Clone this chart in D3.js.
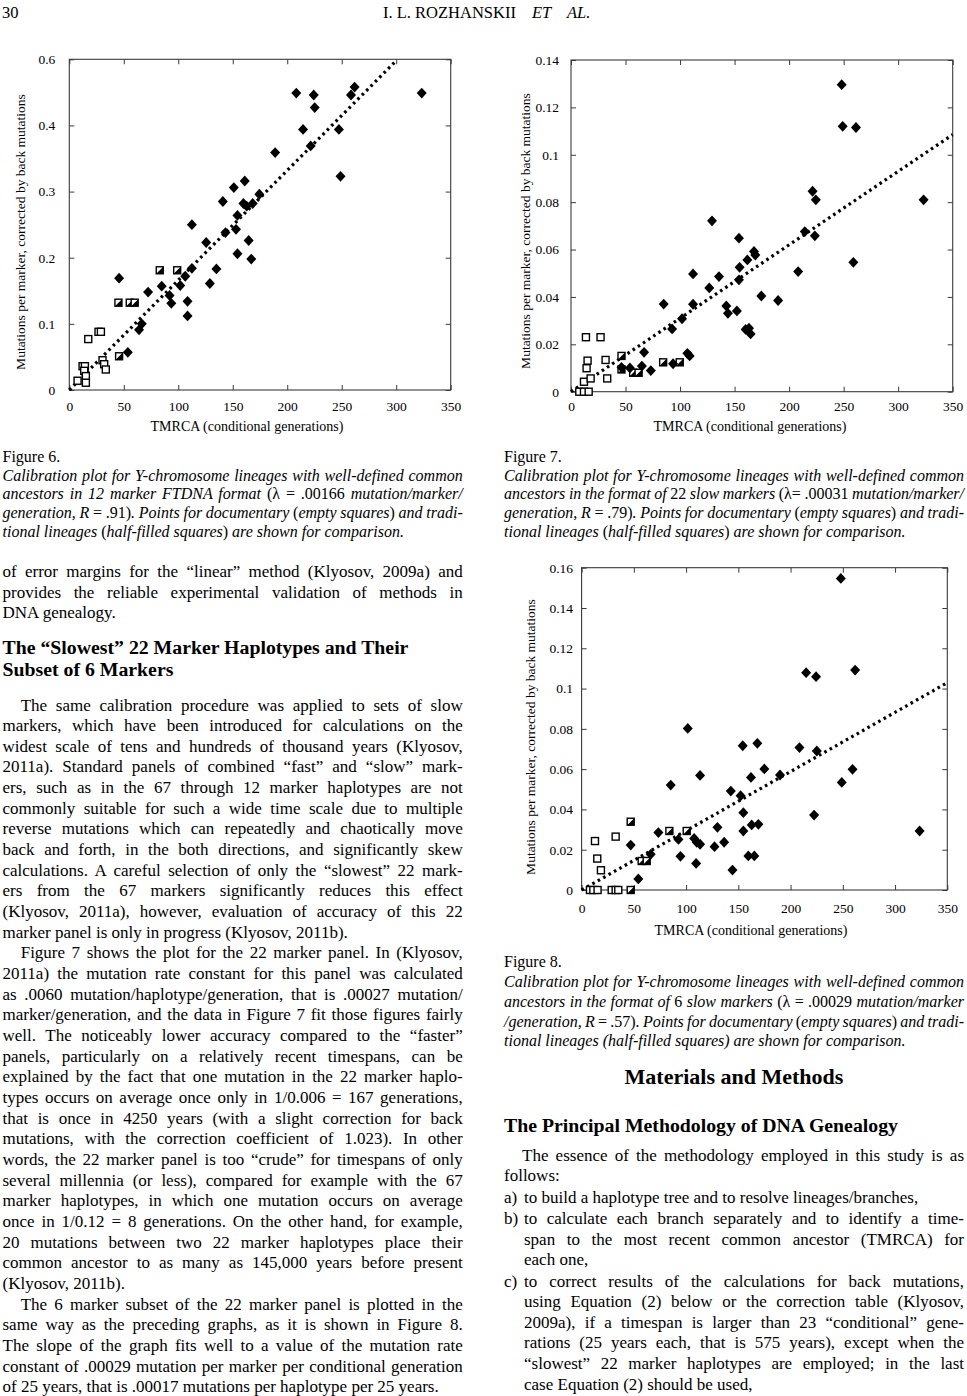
<!DOCTYPE html>
<html><head><meta charset="utf-8">
<script src="https://cdn.jsdelivr.net/npm/d3@7"></script>
<style>
body{margin:0;background:#fff}
svg{display:block;background:#fff}
text{font-family:"Liberation Serif","Times New Roman",serif;fill:#000}
</style></head><body>
<svg id="page" width="967" height="1396"></svg>
<script>
// ================= DATA =================
const xTicks = [0,50,100,150,200,250,300,350];

// Figure 6 (12 marker FTDNA)
const fig6YTicks  = [0,0.1,0.2,0.3,0.4,0.5];
const fig6YLabels = ["0","0.1","0.2","0.3","0.4","0.6"];
const fig6Slope = 0.00166;
const fig6Diamonds = [[45.7,0.169],[53.7,0.057],[64,0.091],[66.5,0.100],[72.3,0.148],[84.8,0.157],[92,0.143],[93.6,0.131],[101.8,0.158],[106.4,0.172],[108.5,0.134],[108.5,0.112],[112.5,0.184],[112.5,0.250],[125.6,0.223],[129,0.161],[135,0.183],[140.9,0.285],[143.3,0.238],[151,0.306],[153,0.243],[154.3,0.264],[154.3,0.206],[161,0.316],[159.8,0.282],[162.8,0.278],[164.6,0.226],[167,0.198],[168.3,0.282],[174.4,0.296],[188.9,0.359],[208.3,0.449],[214.5,0.394],[221.5,0.369],[224.3,0.446],[225.2,0.427],[247.4,0.394],[248.9,0.323],[258.5,0.446],[261.8,0.458],[323.4,0.449]];
const fig6Empty = [[7.6,0.014],[12.2,0.036],[14.3,0.036],[13.7,0.029],[15.2,0.021],[15.2,0.011],[17.4,0.077],[26.8,0.088],[29,0.088],[30.5,0.045],[32,0.039],[33.5,0.031]];
const fig6Half  = [[45.1,0.132],[45.7,0.051],[55.5,0.132],[60,0.132],[83,0.181],[99,0.181]];

// Figure 7 (22 slow markers)
const fig7YTicks  = [0,0.02,0.04,0.06,0.08,0.1,0.12,0.14];
const fig7YLabels = ["0","0.02","0.04","0.06","0.08","0.1","0.12","0.14"];
const fig7Slope = 0.00031;
const fig7Diamonds = [[46.3,0.0103],[54,0.0100],[65,0.0108],[67,0.0166],[73.2,0.0089],[85,0.0370],[92.7,0.0265],[93.6,0.0118],[101.8,0.0308],[106.7,0.0162],[108.8,0.0151],[111.9,0.0497],[111.9,0.0369],[126.8,0.0438],[129.3,0.0721],[135.7,0.0486],[142.4,0.0362],[143.9,0.0331],[152.1,0.0341],[154,0.0648],[154,0.0472],[154.6,0.0525],[161.7,0.0556],[160.1,0.0263],[163.2,0.0268],[164.7,0.0244],[167.8,0.0592],[169,0.0577],[174.5,0.0404],[189.9,0.0385],[208.3,0.0507],[214.4,0.0676],[221.5,0.0846],[224.5,0.0810],[223.6,0.0658],[248.2,0.1296],[249.1,0.1120],[261.3,0.1115],[258.9,0.0546],[323.3,0.0810]];
const fig7Empty = [[7.6,0],[11.9,0],[16.2,0],[11.9,0.0042],[15.2,0.0131],[14.3,0.0099],[18,0.0056],[13.7,0.023],[27.1,0.023],[31.7,0.0134],[33.2,0.0056]];
const fig7Half  = [[46.3,0.0151],[46.3,0.0094],[57,0.0080],[62,0.0080],[84.5,0.0124],[99.7,0.0124]];

// Figure 8 (6 slow markers)
const fig8YTicks  = [0,0.02,0.04,0.06,0.08,0.1,0.12,0.14,0.16];
const fig8YLabels = ["0","0.02","0.04","0.06","0.08","0.1","0.12","0.14","0.16"];
const fig8Slope = 0.000294;
const fig8Diamonds = [[47,0.0223],[54.3,0.0055],[66.1,0.0177],[73.5,0.0285],[85.3,0.0521],[92.7,0.0251],[94.6,0.0167],[101.6,0.0802],[107.7,0.0256],[110.2,0.0237],[109.6,0.0132],[113.4,0.0569],[113.4,0.0227],[127.2,0.0215],[130,0.0311],[136.4,0.0237],[142.8,0.0491],[144.4,0.0099],[152.2,0.0468],[154.2,0.0716],[154.8,0.0384],[154.8,0.0293],[159.6,0.0169],[162.1,0.0559],[162.8,0.0323],[165.3,0.0169],[168.2,0.0728],[169.2,0.0326],[174.9,0.0601],[189.9,0.0571],[208.5,0.0707],[214.9,0.1079],[222.5,0.0372],[224.4,0.1059],[225.1,0.0690],[248.1,0.1547],[249,0.0534],[259.3,0.0599],[261.8,0.1092],[323.5,0.0293]];
const fig8Empty = [[12.8,0.0243],[15,0.0156],[18.5,0.0098],[32.6,0.0265],[8,0],[11.2,0],[15.3,0],[28.8,0],[32.6,0],[35.1,0]];
const fig8Half  = [[47,0.0339],[47,0],[84,0.0293],[100.6,0.0293],[57.5,0.0144],[62.3,0.0144]];

const xTitle = "TMRCA (conditional generations)";
const yTitle = "Mutations per marker, corrected by back mutations";

// ================= DRAWING =================
const svg = d3.select('#page');

function addLine(g, str, x, y, o = {}) {
  const t = g.append('text').attr('x', x).attr('y', y)
    .style('font-size', (o.size || 17) + 'px')
    .style('font-weight', o.bold ? 'bold' : 'normal');
  if (o.anchor) t.attr('text-anchor', o.anchor);
  const parts = str.split('_');
  let ital = !!o.italic;
  parts.forEach(p => {
    if (p.length) t.append('tspan').text(p).style('font-style', ital ? 'italic' : 'normal');
    ital = !ital;
  });
  if (o.to) {
    const target = o.to - x;
    const len = t.node().getComputedTextLength();
    const n = (str.replace(/_/g, '').match(/ /g) || []).length;
    if (n > 0) t.style('word-spacing', ((target - len) / n) + 'px');
    const len2 = t.node().getComputedTextLength();
    if (Math.abs(len2 - target) > 2) {
      t.style('word-spacing', null).attr('textLength', target).attr('lengthAdjust', 'spacing');
    }
  }
  return t;
}

function drawChart(cfg) {
  const x = d3.scaleLinear().domain([0, 350]).range([cfg.left, cfg.right]);
  const y = d3.scaleLinear().domain([0, cfg.yMax]).range([cfg.bottom, cfg.top]);
  const g = svg.append('g');
  const ink = '#3a3a3a';

  const styleAxis = sel => {
    sel.select('.domain').remove();
    sel.attr('font-family', null).attr('font-size', null).style('color', ink);
    sel.selectAll('text').style('font-size', '13.5px').style('fill', '#000');
  };
  g.append('g').attr('transform', `translate(0,${cfg.bottom})`)
    .call(d3.axisBottom(x).tickValues(xTicks).tickSize(-5).tickPadding(cfg.xPad).tickFormat(d3.format('d')))
    .call(styleAxis);
  g.append('g').attr('transform', `translate(0,${cfg.top})`)
    .call(d3.axisTop(x).tickValues(xTicks).tickSize(-5).tickFormat(''))
    .call(styleAxis);
  g.append('g').attr('transform', `translate(${cfg.left},0)`)
    .call(d3.axisLeft(y).tickValues(cfg.yTicks).tickSize(-5).tickPadding(cfg.yPad).tickFormat((d, i) => cfg.yLabels[i]))
    .call(styleAxis);
  g.append('g').attr('transform', `translate(${cfg.right},0)`)
    .call(d3.axisRight(y).tickValues(cfg.yTicks).tickSize(-5).tickFormat(''))
    .call(styleAxis);

  g.append('rect').attr('x', cfg.left).attr('y', cfg.top)
    .attr('width', cfg.right - cfg.left).attr('height', cfg.bottom - cfg.top)
    .attr('fill', 'none').attr('stroke', ink).attr('stroke-width', 1.1);

  const line = d3.line().x(d => x(d)).y(d => y(cfg.slope * d));
  g.append('path').datum([0, cfg.lineEnd]).attr('d', line)
    .attr('fill', 'none').attr('stroke', '#000').attr('stroke-width', 3.2)
    .attr('stroke-dasharray', '2.6,3.6');

  const s = 7;
  g.selectAll('rect.e').data(cfg.empty).join('rect').attr('class', 'e')
    .attr('x', d => x(d[0]) - s / 2).attr('y', d => y(d[1]) - s / 2)
    .attr('width', s).attr('height', s)
    .attr('fill', '#fff').attr('stroke', '#000').attr('stroke-width', 1.4);
  const hg = g.selectAll('g.h').data(cfg.half).join('g').attr('class', 'h')
    .attr('transform', d => `translate(${x(d[0])},${y(d[1])})`);
  hg.append('rect').attr('x', -s / 2).attr('y', -s / 2).attr('width', s).attr('height', s)
    .attr('fill', '#fff').attr('stroke', '#000').attr('stroke-width', 1.4);
  hg.append('path').attr('d', `M${s/2},${-s/2}L${s/2},${s/2}L${-s/2},${s/2}Z`).attr('fill', '#000');
  g.selectAll('path.dm').data(cfg.diamonds).join('path').attr('class', 'dm')
    .attr('d', 'M0,-5.4L5,0L0,5.4L-5,0Z')
    .attr('transform', d => `translate(${x(d[0])},${y(d[1])})`)
    .attr('fill', '#000');

  g.append('text').attr('x', cfg.xTitleX).attr('y', cfg.xTitleY).attr('text-anchor', 'middle')
    .style('font-size', '14px').text(xTitle);
  g.append('text').attr('transform', `translate(${cfg.yTitleX},${cfg.yTitleY}) rotate(-90)`)
    .attr('text-anchor', 'middle').style('font-size', '13.5px').text(yTitle);
}

drawChart({left: 69.3, right: 450.7, top: 59.3, bottom: 390, yMax: 0.5,
  yTicks: fig6YTicks, yLabels: fig6YLabels, slope: fig6Slope, lineEnd: 300,
  diamonds: fig6Diamonds, empty: fig6Empty, half: fig6Half,
  xPad: 11.4, yPad: 14, xTitleX: 247, xTitleY: 430.5, yTitleX: 24.5, yTitleY: 232});
drawChart({left: 571, right: 952.7, top: 60, bottom: 391.7, yMax: 0.14,
  yTicks: fig7YTicks, yLabels: fig7YLabels, slope: fig7Slope, lineEnd: 350,
  diamonds: fig7Diamonds, empty: fig7Empty, half: fig7Half,
  xPad: 9.7, yPad: 12, xTitleX: 750, xTitleY: 430.5, yTitleX: 529.5, yTitleY: 231});
drawChart({left: 581.6, right: 947.3, top: 567.7, bottom: 890, yMax: 0.16,
  yTicks: fig8YTicks, yLabels: fig8YLabels, slope: fig8Slope, lineEnd: 350,
  diamonds: fig8Diamonds, empty: fig8Empty, half: fig8Half,
  xPad: 13.4, yPad: 8.6, xTitleX: 751, xTitleY: 935, yTitleX: 535, yTitleY: 737});

// ================= PAGE TEXT =================
const T = svg.append('g');
addLine(T, "30", 2, 18, {size: 16.5});
addLine(T, "I. L. ROZHANSKII", 383, 18, {size: 16.5});
addLine(T, "ET", 532, 18, {size: 16.5, italic: true});
addLine(T, "AL.", 567, 18, {size: 16.5, italic: true});

function caption(lines, x0, x1, ys) {
  lines.forEach((l, i) => addLine(T, l[0], x0, ys[i], {size: 16, to: l[1] ? x1 : null}));
}
caption([
  ["Figure 6.", 0],
  ["_Calibration plot for Y-chromosome lineages with well-defined common_", 1],
  ["_ancestors in 12 marker FTDNA format_ (λ = .00166 _mutation/marker/_", 1],
  ["_generation, R_ = .91)_. Points for documentary_ (_empty squares_) _and tradi-_", 1],
  ["_tional lineages_ (_half-filled squares_) _are shown for comparison._", 0]
], 2.5, 462.7, [461.7, 481, 499.3, 518.3, 536.7]);
caption([
  ["Figure 7.", 0],
  ["_Calibration plot for Y-chromosome lineages with well-defined common_", 1],
  ["_ancestors in the format of_ 22 _slow markers_ (λ= .00031 _mutation/marker/_", 1],
  ["_generation, R_ = .79)_. Points for documentary_ (_empty squares_) _and tradi-_", 1],
  ["_tional lineages_ (_half-filled squares_) _are shown for comparison._", 0]
], 504, 964, [461.7, 481, 499.3, 518.3, 536.7]);
caption([
  ["Figure 8.", 0],
  ["_Calibration plot for Y-chromosome lineages with well-defined common_", 1],
  ["_ancestors in the format of_ 6 _slow markers_ (λ = .00029 _mutation/marker_", 1],
  ["_/generation, R_ = .57)_. Points for documentary_ (_empty squares_) _and tradi-_", 1],
  ["_tional lineages (half-filled squares) are shown for comparison._", 0]
], 504, 964, [966.7, 986.7, 1006.7, 1026.7, 1046]);

const L0 = 2.5, L1 = 462.7, LI = 20.7;
[["of error margins for the “linear” method (Klyosov, 2009a) and", 1],
 ["provides the reliable experimental validation of methods in", 1],
 ["DNA genealogy.", 0]].forEach((l, i) => addLine(T, l[0], L0, 577 + i * 20.66, {to: l[1] ? L1 : null}));
addLine(T, "The “Slowest” 22 Marker Haplotypes and Their", L0, 653.8, {size: 19.8, bold: true});
addLine(T, "Subset of 6 Markers", L0, 675.5, {size: 19.8, bold: true});
const leftBody = [
 ["The same calibration procedure was applied to sets of slow", 1, 1],
 ["markers, which have been introduced for calculations on the", 1],
 ["widest scale of tens and hundreds of thousand years (Klyosov,", 1],
 ["2011a). Standard panels of combined “fast” and “slow” mark-", 1],
 ["ers, such as in the 67 through 12 marker haplotypes are not", 1],
 ["commonly suitable for such a wide time scale due to multiple", 1],
 ["reverse mutations which can repeatedly and chaotically move", 1],
 ["back and forth, in the both directions, and significantly skew", 1],
 ["calculations. A careful selection of only the “slowest” 22 mark-", 1],
 ["ers from the 67 markers significantly reduces this effect", 1],
 ["(Klyosov, 2011a), however, evaluation of accuracy of this 22", 1],
 ["marker panel is only in progress (Klyosov, 2011b).", 0],
 ["Figure 7 shows the plot for the 22 marker panel. In (Klyosov,", 1, 1],
 ["2011a) the mutation rate constant for this panel was calculated", 1],
 ["as .0060 mutation/haplotype/generation, that is .00027 mutation/", 1],
 ["marker/generation, and the data in Figure 7 fit those figures fairly", 1],
 ["well. The noticeably lower accuracy compared to the “faster”", 1],
 ["panels, particularly on a relatively recent timespans, can be", 1],
 ["explained by the fact that one mutation in the 22 marker haplo-", 1],
 ["types occurs on average once only in 1/0.006 = 167 generations,", 1],
 ["that is once in 4250 years (with a slight correction for back", 1],
 ["mutations, with the correction coefficient of 1.023). In other", 1],
 ["words, the 22 marker panel is too “crude” for timespans of only", 1],
 ["several millennia (or less), compared for example with the 67", 1],
 ["marker haplotypes, in which one mutation occurs on average", 1],
 ["once in 1/0.12 = 8 generations. On the other hand, for example,", 1],
 ["20 mutations between two 22 marker haplotypes place their", 1],
 ["common ancestor to as many as 145,000 years before present", 1],
 ["(Klyosov, 2011b).", 0],
 ["The 6 marker subset of the 22 marker panel is plotted in the", 1, 1],
 ["same way as the preceding graphs, as it is shown in Figure 8.", 1],
 ["The slope of the graph fits well to a value of the mutation rate", 1],
 ["constant of .00029 mutation per marker per conditional generation", 1],
 ["of 25 years, that is .00017 mutations per haplotype per 25 years.", 0]
];
leftBody.forEach((l, i) => {
  const x = l[2] ? L0 + LI - 2.5 : L0;
  addLine(T, l[0], x, 710.5 + i * 20.66, {to: l[1] ? L1 : null});
});

const R0 = 504, R1 = 964;
addLine(T, "Materials and Methods", 734, 1084, {size: 22, bold: true, anchor: 'middle'});
addLine(T, "The Principal Methodology of DNA Genealogy", R0, 1131.5, {size: 19.8, bold: true});
const rightBody = [
 ["The essence of the methodology employed in this study is as", 1, 522, null],
 ["follows:", 0, R0, null],
 ["to build a haplotype tree and to resolve lineages/branches,", 0, 524, "a)"],
 ["to calculate each branch separately and to identify a time-", 1, 524, "b)"],
 ["span to the most recent common ancestor (TMRCA) for", 1, 524, null],
 ["each one,", 0, 524, null],
 ["to correct results of the calculations for back mutations,", 1, 524, "c)"],
 ["using Equation (2) below or the correction table (Klyosov,", 1, 524, null],
 ["2009a), if a timespan is larger than 23 “conditional” gene-", 1, 524, null],
 ["rations (25 years each, that is 575 years), except when the", 1, 524, null],
 ["“slowest” 22 marker haplotypes are employed; in the last", 1, 524, null],
 ["case Equation (2) should be used,", 0, 524, null]
];
let ry = 1160.5;
rightBody.forEach((l, i) => {
  if (i > 0) ry += 20.6 + (l[3] ? 0.8 : 0);
  if (l[3]) addLine(T, l[3], R0, ry);
  addLine(T, l[0], l[2], ry, {to: l[1] ? R1 : null});
});
</script>
</body></html>
